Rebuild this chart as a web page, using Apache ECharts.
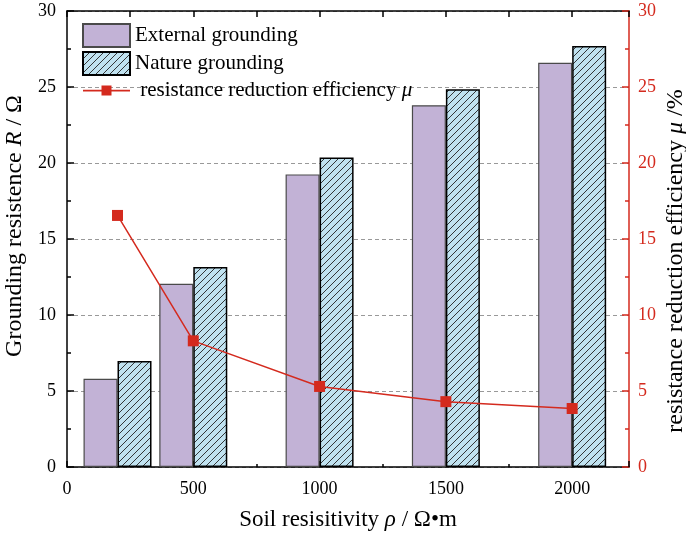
<!DOCTYPE html>
<html>
<head>
<meta charset="utf-8">
<script src="https://cdn.jsdelivr.net/npm/echarts@6/dist/echarts.min.js"></script>
<style>
  html, body { margin: 0; padding: 0; background: #fff; }
  #chart { width: 686px; height: 535px; }
</style>
</head>
<body>
<div id="chart"></div>
<script>
// soil resistivity (x positions of the bar groups)
const resistivity = [200, 500, 1000, 1500, 2000]
// grounding resistance, external vs nature grounding
const externalR = [5.8, 12.05, 19.25, 23.8, 26.6]
const natureR = [6.97, 13.15, 20.37, 24.85, 27.7]
// resistance reduction efficiency mu (%)
const efficiency = [16.55, 8.3, 5.3, 4.3, 3.85]
const xTickLabels = ['0', '500', '1000', '1500', '2000']

const FONT = 'Liberation Serif'
const RED = '#d42a1e'

// hatch tile for nature grounding
function hatch () {
  const c = document.createElement('canvas')
  c.width = 7
  c.height = 7
  const g = c.getContext('2d')
  g.fillStyle = '#c0e2f0'
  g.fillRect(0, 0, 7, 7)
  g.strokeStyle = '#222'
  g.lineWidth = 0.9
  g.beginPath()
  g.moveTo(-1, 8); g.lineTo(8, -1)
  g.moveTo(-1, 1); g.lineTo(1, -1)
  g.moveTo(6, 8); g.lineTo(8, 6)
  g.stroke()
  return c
}

function nameStyle (size, padding) {
  return {
    fontFamily: FONT,
    fontSize: size,
    color: '#000',
    padding: padding,
    rich: { i: { fontFamily: FONT, fontSize: size, fontStyle: 'italic', color: '#000' } }
  }
}

const chart = echarts.init(document.getElementById('chart'))

const option = {
  animation: false,
  textStyle: { fontFamily: FONT },
  grid: { left: 67, right: 57, top: 11, bottom: 68, outerBoundsMode: 'none', containLabel: false },
  legend: {
    orient: 'vertical',
    left: 82,
    top: 23,
    padding: 0,
    itemWidth: 47,
    itemHeight: 23,
    itemGap: 3,
    icon: 'rect',
    textStyle: {
      fontFamily: FONT,
      fontSize: 21,
      color: '#000',
      rich: {
        t: { fontFamily: FONT, fontSize: 21, color: '#000' },
        i: { fontFamily: FONT, fontSize: 21, color: '#000', fontStyle: 'italic' }
      }
    },
    formatter: function (name) {
      if (name === 'efficiency') return ' {t|resistance reduction efficiency }{i|μ}'
      return name
    },
    data: [
      { name: 'External grounding', icon: 'rect' },
      { name: 'Nature grounding', icon: 'rect' },
      {
        name: 'efficiency',
        icon: 'path://M0,0h0.01v0.01h-0.01z M46.99,22.99h0.01v0.01h-0.01z M0,10.8h47v1.6h-47z M18.5,6.5h10v10h-10z'
      }
    ]
  },
  xAxis: [{
    type: 'value',
    min: 0,
    max: 2225,
    interval: 500,
    name: 'Soil resisitivity {i|ρ} / Ω•m',
    nameLocation: 'middle',
    nameGap: 41,
    nameTextStyle: nameStyle(23),
    axisLine: { onZero: false, lineStyle: { color: '#000', width: 1.5 } },
    axisTick: { inside: true, length: 6, lineStyle: { color: '#000', width: 1.5 } },
    minorTick: { show: true, splitNumber: 2, length: 3, lineStyle: { color: '#000', width: 1.5 } },
    axisLabel: {
      fontFamily: FONT,
      fontSize: 18,
      color: '#000',
      margin: 13,
      formatter: function (v) {
        return xTickLabels.indexOf(String(v)) >= 0 ? String(v) : ''
      }
    },
    splitLine: { show: false }
  }, {
    type: 'value',
    position: 'top',
    min: 0,
    max: 2225,
    interval: 250,
    axisLine: { show: true, onZero: false, lineStyle: { color: '#000', width: 1.5 } },
    axisTick: { show: true, inside: true, length: 6, lineStyle: { color: '#000', width: 1.5 } },
    axisLabel: { show: false },
    splitLine: { show: false }
  }],
  yAxis: [{
    type: 'value',
    min: 0,
    max: 30,
    interval: 5,
    name: 'Grounding resistence {i|R} / Ω',
    nameLocation: 'middle',
    nameRotate: 90,
    nameGap: 38,
    nameTextStyle: nameStyle(24, [0, 0, 0, 26]),
    axisLine: { show: true, onZero: false, lineStyle: { color: '#000', width: 1.5 } },
    axisTick: { show: true, inside: true, length: 7, lineStyle: { color: '#000', width: 1.5 } },
    minorTick: { show: true, splitNumber: 2, length: 4, lineStyle: { color: '#000', width: 1.5 } },
    axisLabel: { fontFamily: FONT, fontSize: 18, color: '#000', margin: 11 },
    splitLine: { show: true, lineStyle: { color: '#999', type: [4, 3], width: 1 } }
  }, {
    type: 'value',
    position: 'right',
    min: 0,
    max: 30,
    interval: 5,
    name: 'resistance reduction efficiency {i|μ} /%',
    nameLocation: 'middle',
    nameRotate: 90,
    nameGap: 35,
    nameMoveOverlap: false,
    nameTextStyle: nameStyle(24, [0, 44, 0, 0]),
    axisLine: { show: true, onZero: false, lineStyle: { color: RED, width: 1.5 } },
    axisTick: { show: true, inside: true, length: 7, lineStyle: { color: RED, width: 1.5 } },
    minorTick: { show: true, splitNumber: 2, length: 4, lineStyle: { color: RED, width: 1.5 } },
    axisLabel: { fontFamily: FONT, fontSize: 18, color: RED, margin: 9 },
    splitLine: { show: false }
  }],
  series: [{
    name: 'External grounding',
    type: 'bar',
    barWidth: 34,
    barGap: '0%',
    itemStyle: { color: '#c2b2d6', borderColor: '#4a4a4a', borderWidth: 1.2 },
    data: resistivity.map((x, i) => [x, externalR[i]])
  }, {
    name: 'Nature grounding',
    type: 'bar',
    barWidth: 34,
    barGap: '0%',
    itemStyle: { color: { image: hatch(), repeat: 'repeat' }, borderColor: '#000', borderWidth: 1.5 },
    data: resistivity.map((x, i) => [x, natureR[i]])
  }, {
    name: 'efficiency',
    type: 'line',
    yAxisIndex: 1,
    symbol: 'rect',
    symbolSize: 11,
    color: RED,
    lineStyle: { color: RED, width: 1.5 },
    itemStyle: { color: RED },
    data: resistivity.map((x, i) => [x, efficiency[i]])
  }]
}

chart.setOption(option)
</script>
</body>
</html>
